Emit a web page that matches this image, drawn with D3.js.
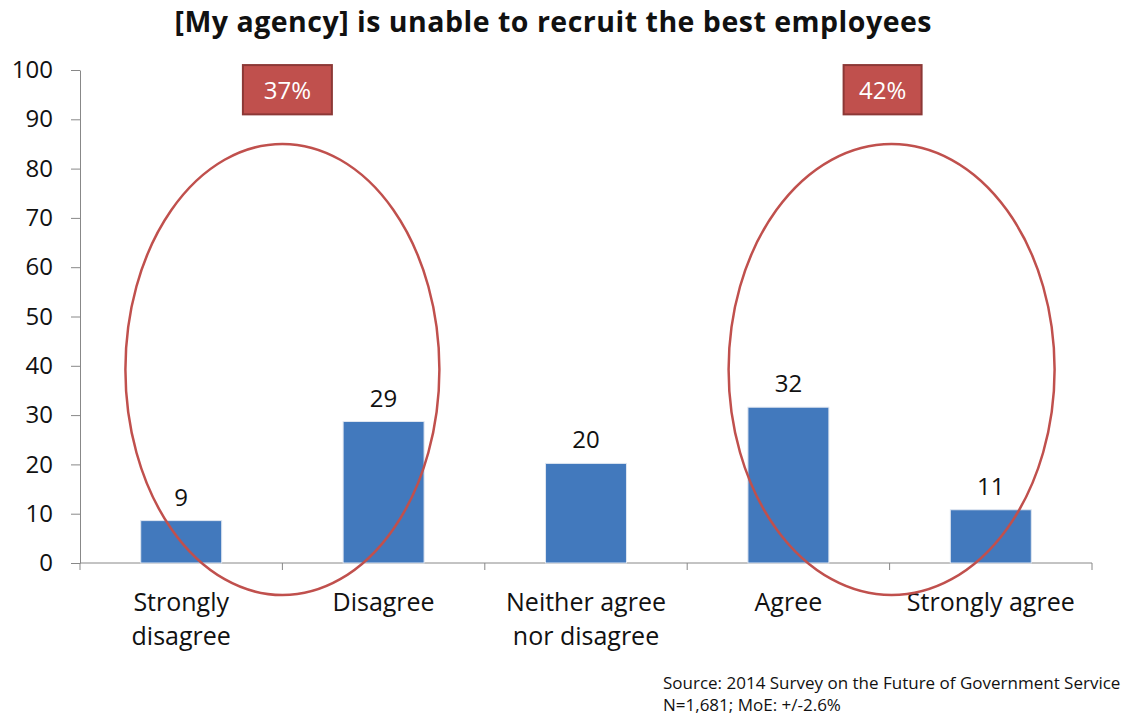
<!DOCTYPE html>
<html><head><meta charset="utf-8">
<script src="https://cdn.jsdelivr.net/npm/d3@7"></script>
<style>body{margin:0;background:#fff}text{font-family:"Open Sans",sans-serif}</style>
</head><body>
<svg id="c" width="1123" height="715"></svg>
<script>
const categories = ["Strongly disagree", "Disagree", "Neither agree nor disagree", "Agree", "Strongly agree"];
const categoryLines = [["Strongly","disagree"],["Disagree"],["Neither agree","nor disagree"],["Agree"],["Strongly agree"]];
const values = [8.6, 28.7, 20.2, 31.6, 10.8];
const valueLabels = ["9", "29", "20", "32", "11"];
const yTicks = [0,10,20,30,40,50,60,70,80,90,100];
const groupLabels = ["37%", "42%"];
const groups = [[0,1],[3,4]];
const title = "[My agency] is unable to recruit the best employees";
const source = ["Source: 2014 Survey on the Future of Government Service", "N=1,681; MoE: +/-2.6%"];

const svg = d3.select("#c");
const m = {l:80, r:31, t:70, b:152};
const W = 1123, H = 715;
const x = d3.scaleBand().domain(categories).range([m.l, W - m.r]).paddingInner(0.6).paddingOuter(0.3);
const y = d3.scaleLinear().domain([0,100]).range([H - m.b, m.t]);
const band = d3.scaleBand().domain(categories).range([m.l, W - m.r]);

svg.append("text").attr("x", 553).attr("y", 32).attr("text-anchor","middle")
  .attr("font-size", 28.5).attr("font-weight","bold").attr("fill","#111")
  .attr("textLength", 757).attr("lengthAdjust","spacing").text(title);

// y axis
const ya = svg.append("g").attr("transform",`translate(${m.l},0)`)
  .call(d3.axisLeft(y).tickValues(yTicks).tickSize(9).tickSizeOuter(0).tickPadding(18));
ya.select(".domain").attr("stroke","#888");
ya.selectAll(".tick line").attr("stroke","#888");
ya.selectAll(".tick text").attr("font-size",24).attr("fill","#111").attr("font-family","'Open Sans',sans-serif");

// x axis
const xa = svg.append("g").attr("transform",`translate(0,${y(0)})`);
xa.append("line").attr("x1", m.l).attr("x2", W - m.r).attr("stroke","#888");
const bounds = categories.map(c => band(c)).concat([W - m.r]);
xa.selectAll("line.t").data(bounds).join("line").attr("class","t")
  .attr("x1", d=>d).attr("x2", d=>d).attr("y1",0).attr("y2",7).attr("stroke","#888");

// bars
svg.selectAll("rect.bar").data(values).join("rect").attr("class","bar")
  .attr("x",(d,i)=>x(categories[i])).attr("width",x.bandwidth())
  .attr("y",d=>y(d)).attr("height",d=>y(0)-y(d))
  .attr("fill","#4279bd").attr("stroke","#dfe6f0").attr("stroke-width",1);

// value labels
svg.selectAll("text.val").data(values).join("text").attr("class","val")
  .attr("x",(d,i)=>x(categories[i])+x.bandwidth()/2).attr("y",d=>y(d)-15)
  .attr("text-anchor","middle").attr("font-size",24).attr("fill","#111")
  .text((d,i)=>valueLabels[i]);

// category labels
categoryLines.forEach((lines,i)=>{
  const t = svg.append("text").attr("x", x(categories[i])+x.bandwidth()/2).attr("y", 611)
    .attr("text-anchor","middle").attr("font-size",25).attr("fill","#111");
  lines.forEach((s,j)=> t.append("tspan").attr("x", x(categories[i])+x.bandwidth()/2).attr("dy", j?34:0).text(s));
});

// ellipses & group boxes
const boxW = [89, 78];
groups.forEach((g,k)=>{
  const cx = (x(categories[g[0]]) + x(categories[g[1]]) + x.bandwidth())/2 + (k?2:0);
  const top = y(85), bot = y(-6.5);
  const rx = k ? 163 : 157;
  svg.append("ellipse").attr("cx",cx).attr("cy",(top+bot)/2).attr("rx",rx).attr("ry",(bot-top)/2)
    .attr("fill","none").attr("stroke","#c0504d").attr("stroke-width",2.5);
  const bx = cx - boxW[k]/2 + (k?-9:5);
  svg.append("rect").attr("x",bx).attr("y",y(101)).attr("width",boxW[k]).attr("height",y(91)-y(101))
    .attr("fill","#c0504d").attr("stroke","#8c3836").attr("stroke-width",2);
  svg.append("text").attr("x",bx+boxW[k]/2).attr("y",y(96)+9).attr("text-anchor","middle")
    .attr("font-size",24).attr("fill","#fff").text(groupLabels[k]);
});

// source
source.forEach((s,i)=> svg.append("text").attr("x",663).attr("y",689+i*22)
  .attr("font-size",17).attr("fill","#111").text(s));
</script>
</body></html>
